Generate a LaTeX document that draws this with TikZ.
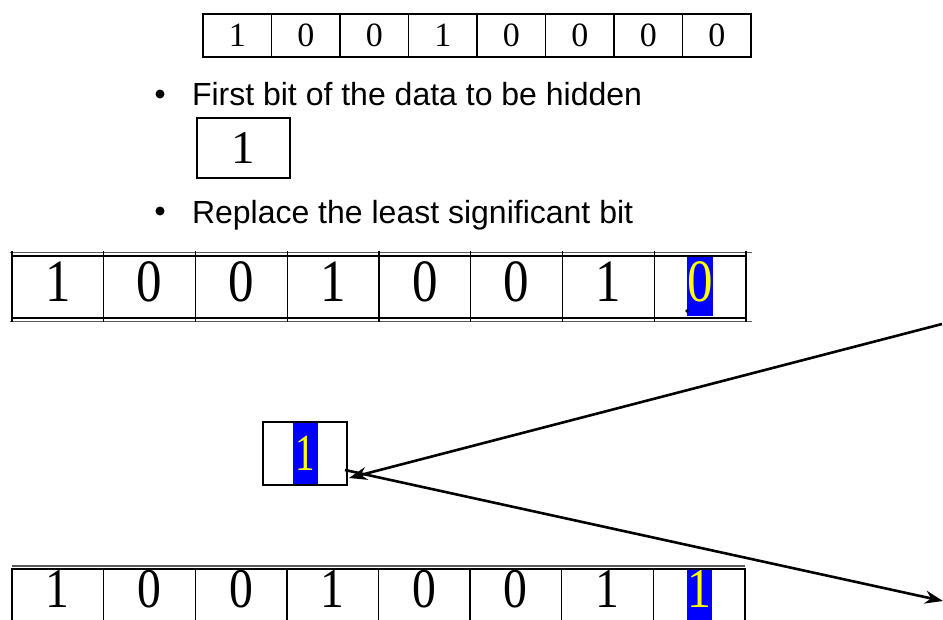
\documentclass[tikz,border=0pt]{standalone}
\usepackage{fontspec}
\setmainfont{Liberation Serif}
\newfontfamily\notefont{Liberation Sans}
\usetikzlibrary{arrows.meta, positioning, calc}
\definecolor{markblue}{RGB}{0,0,255}
\definecolor{markyellow}{RGB}{255,255,0}
\newcommand{\slimdigit}[2]{\scalebox{#1}[1]{#2}}

\begin{document}
\begin{tikzpicture}[x=1pt, y=-1pt,
    every node/.style={inner sep=0pt, outer sep=0pt},
    cellA/.style={draw, line width=1.1pt, anchor=north west, minimum width=68.5pt, minimum height=43pt,
        font=\fontsize{34}{34}\selectfont},
    cellB/.style={draw, line width=1.2pt, anchor=north west, minimum width=91.75pt, minimum height=62pt,
        text depth=10pt, font=\fontsize{60}{60}\selectfont},
    note/.style={anchor=base west, font=\notefont\fontsize{32}{32}\selectfont},
    dot/.style={circle, fill, minimum size=9pt},
    rail/.style={line width=1pt, black!65},
    link/.style={line width=2.6pt, -{Stealth[length=18pt, width=13pt]}}]
    \useasboundingbox (0,0) rectangle (943,619);
    \clip (0,0) rectangle (943,619);

    % cover byte
    \foreach \b [count=\i] in {1,0,0,1,0,0,0,0}
        \node[cellA] (cover-\i) at ({203+(\i-1)*68.5}, 14) {\b};

    % bit to hide
    \node[dot] (dot-1) at (160,94) {};
    \node[note] (step-1) at (192,105) {First bit of the data to be hidden};
    \node[draw, line width=1.1pt, minimum width=93pt, minimum height=60pt,
        font=\fontsize{47}{47}\selectfont] (hidebit) at (243.5,148) {1};

    \node[dot] (dot-2) at (160,211) {};
    \node[note] (step-2) at (192,223) {Replace the least significant bit};

    % byte before replacement
    \fill[markblue] (687,256) rectangle (713,316);
    \foreach \b/\c [count=\i] in {1/black,0/black,0/black,1/black,0/black,0/black,1/black,0/markyellow}
        \node[cellB, text=\c] (old-\i) at ({12+(\i-1)*91.75}, 256) {\slimdigit{0.85}{\b}};
    \draw[rail] (10,252.5) -- (752,252.5);
    \draw[rail] (10,321) -- (752,321);
    \foreach \k in {0,...,8}
        \draw[line width=1.2pt] ({12+\k*91.75},251) -- ({12+\k*91.75},322);
    \fill (687,311) circle (1.8);

    % the new bit
    \fill[markblue] (293,422) rectangle (318,485);
    \node[draw, line width=1.1pt, minimum width=84pt, minimum height=63pt, text=markyellow,
        font=\fontsize{52}{52}\selectfont] (newbit) at (305,453.5) {\slimdigit{0.75}{1}};

    % byte after replacement
    \fill[markblue] (687,569) rectangle (712,640);
    \foreach \b/\c [count=\i] in {1/black,0/black,0/black,1/black,0/black,0/black,1/black,1/markyellow}
        \node[cellB, text=\c, text depth=22pt, font=\fontsize{56}{56}\selectfont]
            (new-\i) at ({12+(\i-1)*91.6}, 569) {\slimdigit{0.85}{\b}};
    \draw[rail, line width=1.6pt] (12,566) -- (745,566);

    % arrows in and out of the new bit
    \coordinate (farup) at (942,324);
    \coordinate (fardown) at (943,601);
    \coordinate (hitin) at (349,478);
    \coordinate (hitout) at (345,470);
    \draw[link] (farup) -- (hitin);
    \draw[link] (hitout) -- (fardown);
\end{tikzpicture}
\end{document}
